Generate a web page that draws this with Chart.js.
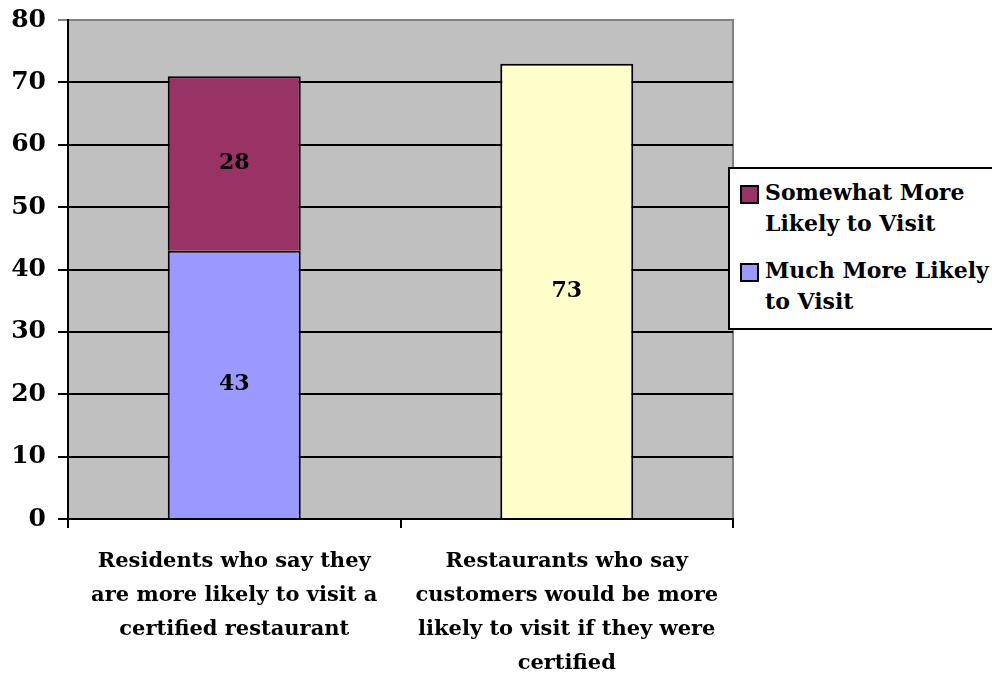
<!DOCTYPE html>
<html>
<head>
<meta charset="utf-8">
<script src="https://cdn.jsdelivr.net/npm/chart.js@4/dist/chart.umd.min.js"></script>
<style>
  html, body { margin: 0; padding: 0; background: #fff; overflow: hidden; }
  #wrap { position: relative; width: 992px; height: 677px; }
  #legend {
    position: absolute; left: 728px; top: 167px; width: 270px; height: 159px;
    border: 2px solid #000; background: #fff; box-sizing: content-box;
    font: bold 22px "DejaVu Serif", serif; color: #000;
  }
  .item { position: absolute; left: 10px; display: flex; line-height: 31px; }
  .box { width: 15px; height: 15px; border: 2px solid #000; margin: 8px 6px 0 0; flex: none; }
</style>
</head>
<body>
<div id="wrap">
  <canvas id="chart" width="992" height="677"></canvas>
  <div id="legend"></div>
</div>
<script>
const categories = [
  ["Residents who say they", "are more likely to visit a", "certified restaurant"],
  ["Restaurants who say", "customers would be more", "likely to visit if they were", "certified"]
];
const muchMore = [43, null];
const somewhatMore = [28, null];
const restaurants = [null, 73];
const yTicks = [0, 10, 20, 30, 40, 50, 60, 70, 80];

const FONT = "DejaVu Serif";

const plotBackground = {
  id: "plotBackground",
  beforeDraw(chart) {
    const { ctx, chartArea: a } = chart;
    ctx.save();
    ctx.fillStyle = "#C0C0C0";
    ctx.fillRect(a.left, a.top, a.right - a.left, a.bottom - a.top);
    ctx.strokeStyle = "#808080";
    ctx.lineWidth = 2;
    ctx.beginPath();
    ctx.moveTo(a.left, a.top);
    ctx.lineTo(a.right, a.top);
    ctx.lineTo(a.right, a.bottom);
    ctx.stroke();
    ctx.restore();
  }
};

const valueLabels = {
  id: "valueLabels",
  afterDatasetsDraw(chart) {
    const ctx = chart.ctx;
    ctx.save();
    ctx.fillStyle = "#000";
    ctx.font = `bold 22px "${FONT}"`;
    ctx.textAlign = "center";
    ctx.textBaseline = "middle";
    chart.data.datasets.forEach((ds, i) => {
      chart.getDatasetMeta(i).data.forEach((bar, j) => {
        const v = ds.data[j];
        if (v === null || v === undefined) return;
        ctx.fillText(String(v), bar.x, (bar.y + bar.base) / 2);
      });
    });
    ctx.restore();
  }
};

const chart = new Chart(document.querySelector("#chart"), {
  type: "bar",
  data: {
    labels: categories,
    datasets: [
      { label: "Much More Likely to Visit", data: muchMore, backgroundColor: "#9999FF", inLegend: true },
      { label: "Somewhat More Likely to Visit", data: somewhatMore, backgroundColor: "#993366", inLegend: true },
      { label: "Restaurants", data: restaurants, backgroundColor: "#FFFFCC", inLegend: false }
    ].map((d) => ({
      ...d,
      borderColor: "#000",
      borderWidth: 2,
      barPercentage: 0.4,
      categoryPercentage: 1
    }))
  },
  options: {
    responsive: false,
    animation: false,
    layout: { padding: { top: 20, right: 259, left: 0, bottom: 0 } },
    plugins: { legend: { display: false }, tooltip: { enabled: false } },
    scales: {
      x: {
        stacked: true,
        afterFit: (s) => { s.height = 158; s.paddingLeft = 0; s.paddingRight = 0; },
        grid: { offset: true, drawOnChartArea: false, color: "#000", lineWidth: 2, tickLength: 9 },
        border: { color: "#000", width: 2 },
        ticks: {
          color: "#000",
          maxRotation: 0,
          autoSkip: false,
          padding: 16,
          font: { family: FONT, weight: "bold", size: 21, lineHeight: 1.63 }
        }
      },
      y: {
        stacked: true,
        min: yTicks[0],
        max: yTicks[yTicks.length - 1],
        afterFit: (s) => { s.width = 68; s.paddingTop = 0; s.paddingBottom = 0; },
        afterBuildTicks: (s) => { s.ticks = yTicks.map((v) => ({ value: v })); },
        grid: {
          color: (c) => (c.tick && c.tick.value === 80 ? "#808080" : "#000"),
          lineWidth: 2,
          tickLength: 10
        },
        border: { color: "#000", width: 2 },
        ticks: {
          color: "#000",
          padding: 12,
          font: { family: FONT, weight: "bold", size: 25 }
        }
      }
    }
  },
  plugins: [plotBackground, valueLabels]
});

// legend built from the datasets, top entry = top of stack
const legendEl = document.querySelector("#legend");
const legendTops = [8, 86];
chart.data.datasets
  .filter((d) => d.inLegend)
  .reverse()
  .forEach((d, i) => {
    const item = document.createElement("div");
    item.className = "item";
    item.style.top = legendTops[i] + "px";
    const words = d.label.split(" ");
    const split = i === 0 ? 2 : 3;
    item.innerHTML = `<div class="box" style="background:${d.backgroundColor}"></div>` +
      `<div>${words.slice(0, split).join(" ")}<br>${words.slice(split).join(" ")}</div>`;
    legendEl.appendChild(item);
  });
</script>
</body>
</html>
